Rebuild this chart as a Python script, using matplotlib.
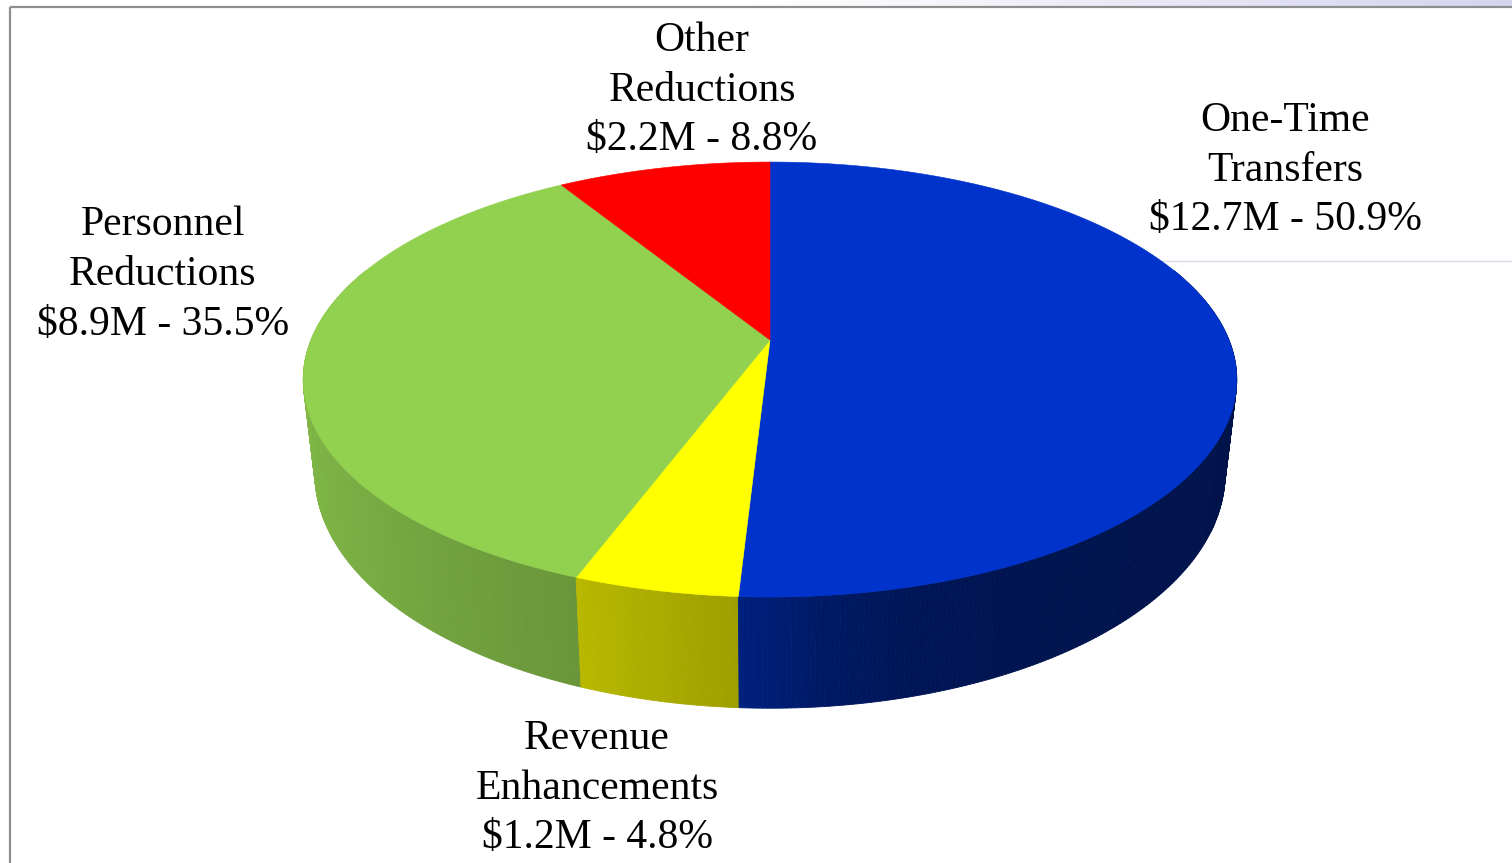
import numpy as np
import matplotlib
matplotlib.use("Agg")
import matplotlib.pyplot as plt
from matplotlib.collections import PolyCollection
from matplotlib.patches import Polygon
from matplotlib.colors import to_rgb

# ---------------- data ----------------
categories = ["One-Time\nTransfers", "Revenue\nEnhancements", "Personnel\nReductions", "Other\nReductions"]
amounts = [12.7, 1.2, 8.9, 2.2]          # $M
percents = [50.9, 4.8, 35.5, 8.8]        # %
colors = ["#0033CC", "#FFFF00", "#92D050", "#FF0000"]

# ---------------- layout ----------------
W, H = 1512, 863
fig = plt.figure(figsize=(W / 100, H / 100), dpi=100)
ax = fig.add_axes([0, 0, 1, 1])
ax.set_xlim(0, W)
ax.set_ylim(H, 0)
ax.axis("off")

# perspective pie geometry (pixel space)
CX, CY = 770.0, 340.0
A, B, K, D = 459.0, 210.3, 0.1817, 91.0
XSHRINK = 0.975


def top_pt(theta):
    t = np.radians(theta)
    v = np.cos(t)
    s = 1.0 / (1.0 + K * v)
    return CX + A * np.sin(t) * s, CY - B * v * s, s, v


def bot_pt(theta):
    x, y, s, v = top_pt(theta)
    return CX + (x - CX) * XSHRINK, y + D * s


def shade(theta):
    th = np.array([0, 90, 120, 150, 165, 175, 183, 200, 230, 270, 360])
    fa = np.array([0.36, 0.36, 0.37, 0.39, 0.42, 0.50, 0.62, 0.72, 0.82, 0.92, 0.92])
    return np.interp(theta, th, fa)


total = sum(percents)
bounds = np.concatenate([[0], np.cumsum(percents)]) / total * 360.0

# side walls
quads, fcols, depth = [], [], []
for i, col in enumerate(colors):
    t0, t1 = bounds[i], bounds[i + 1]
    n = max(2, int(np.ceil((t1 - t0) / 0.5)))
    ts = np.linspace(t0, t1, n + 1)
    base = np.array(to_rgb(col))
    for a, b in zip(ts[:-1], ts[1:]):
        m = 0.5 * (a + b)
        if np.cos(np.radians(m)) > 0.35:
            continue
        xa, ya, _, _ = top_pt(a)
        xb, yb, _, _ = top_pt(b)
        xa2, ya2 = bot_pt(a)
        xb2, yb2 = bot_pt(b)
        quads.append([(xa, ya), (xb, yb), (xb2, yb2), (xa2, ya2)])
        fcols.append(np.clip(base * shade(m), 0, 1))
        depth.append(np.cos(np.radians(m)))

order = np.argsort(depth)[::-1]
pc = PolyCollection([quads[j] for j in order],
                    facecolors=[fcols[j] for j in order],
                    edgecolors=[fcols[j] for j in order],
                    linewidths=0.6, zorder=1)
ax.add_collection(pc)

# top faces
for i, col in enumerate(colors):
    t0, t1 = bounds[i], bounds[i + 1]
    ts = np.linspace(t0, t1, max(3, int((t1 - t0) * 2)))
    pts = [(CX, CY)] + [top_pt(t)[:2] for t in ts]
    ax.add_patch(Polygon(pts, closed=True, facecolor=col, edgecolor=col,
                         linewidth=0.4, zorder=2))

# labels
label_pos = {
    0: (1285, [121, 171, 220]),
    1: (597, [739, 789, 838]),
    2: (163, [225, 275, 325]),
    3: (702, [41, 91, 140]),
}
for i, name in enumerate(categories):
    x, ys = label_pos[i]
    lines = name.split("\n") + [f"\\${amounts[i]}M - {percents[i]}%"]
    for ln, yy in zip(lines, ys):
        ax.text(x, yy, ln, ha="center", va="center", fontsize=30,
                family=["Liberation Serif", "DejaVu Serif"], color="black", zorder=3)

# slide frame decorations
grad = np.linspace(0, 1, 256)[None, :]
top_cmap = matplotlib.colors.LinearSegmentedColormap.from_list("t", ["#FFFFFF", "#FFFFFF", "#D4D4EE"])
ax.imshow(grad, extent=[0, W, 6, 0], cmap=top_cmap, aspect="auto", zorder=0)
ax.plot([9.5, 9.5], [H, 7.5], color="#8E8E8E", lw=1.6, zorder=4, solid_capstyle="butt")
ax.plot([9.5, W], [7.5, 7.5], color="#8E8E8E", lw=1.6, zorder=4, solid_capstyle="butt")
ax.plot([1150, W], [261, 261], color="#DCDCE8", lw=1.0, zorder=0)
ax.set_xlim(0, W)
ax.set_ylim(H, 0)

fig.savefig("out.png", dpi=100, facecolor="white")
